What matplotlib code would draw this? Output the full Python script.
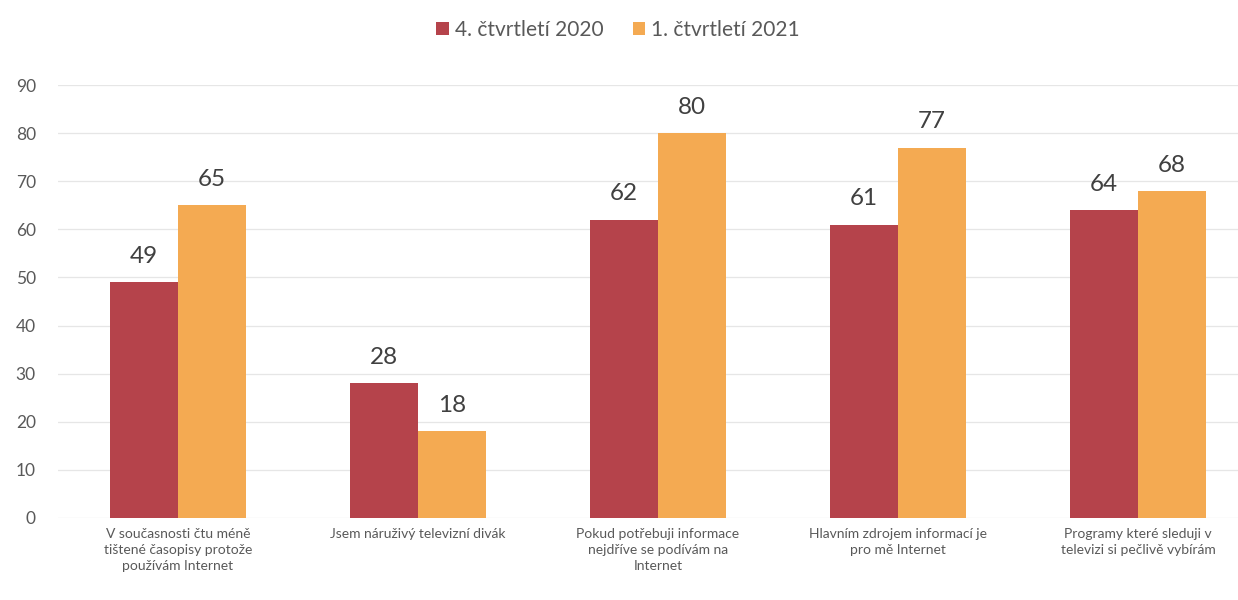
import matplotlib
matplotlib.use("Agg")
import matplotlib.pyplot as plt
import numpy as np

categories = [
    "V současnosti čtu méně\ntištené časopisy protože\npoužívám Internet",
    "Jsem náruživý televizní divák",
    "Pokud potřebuji informace\nnejdříve se podívám na\nInternet",
    "Hlavním zdrojem informací je\npro mě Internet",
    "Programy které sleduji v\ntelevizi si pečlivě vybírám",
]
series_names = ["4. čtvrtletí 2020", "1. čtvrtletí 2021"]
q4_2020 = [49, 28, 62, 61, 64]
q1_2021 = [65, 18, 80, 77, 68]
y_ticks = [0, 10, 20, 30, 40, 50, 60, 70, 80, 90]

colors = ["#b5434b", "#f4aa52"]
text_gray = "#595959"

plt.rcParams["font.family"] = ["Lato", "DejaVu Sans"]

W, H = 1238, 600
fig = plt.figure(figsize=(W / 100, H / 100), dpi=100)
ax = fig.add_axes([58 / W, (600 - 518) / H, 1200 / W, (518 - 85) / H])

x = np.arange(len(categories))
bw = 0.283
b1 = ax.bar(x - bw / 2, q4_2020, bw, color=colors[0], label=series_names[0], zorder=2)
b2 = ax.bar(x + bw / 2, q1_2021, bw, color=colors[1], label=series_names[1], zorder=2)

for bars in (b1, b2):
    ax.bar_label(bars, labels=[str(int(v)) for v in bars.datavalues], padding=11,
                 fontsize=17.5, color="#404040")

ax.set_xlim(-0.5, len(categories) - 0.5)
ax.set_ylim(0, 90)
ax.set_yticks(y_ticks)
ax.set_yticklabels([str(t) for t in y_ticks], fontsize=12.5, color=text_gray)
ax.set_xticks(x)
ax.set_xticklabels(categories, fontsize=10, color=text_gray, linespacing=1.4)
ax.tick_params(axis="both", length=0)
ax.tick_params(axis="y", pad=16)
ax.tick_params(axis="x", pad=7)
ax.grid(axis="y", color="#e6e6e6", linewidth=0.9, zorder=0)
for s in ax.spines.values():
    s.set_visible(False)

fig.legend(handles=[b1, b2], labels=series_names, loc="center",
           bbox_to_anchor=(618 / W, 1 - 30 / H), ncol=2, frameon=False,
           fontsize=15, labelcolor=text_gray, handlelength=0.6, handleheight=0.6,
           handletextpad=0.3, columnspacing=1.4)

fig.savefig("out.png", dpi=100, facecolor="white")
